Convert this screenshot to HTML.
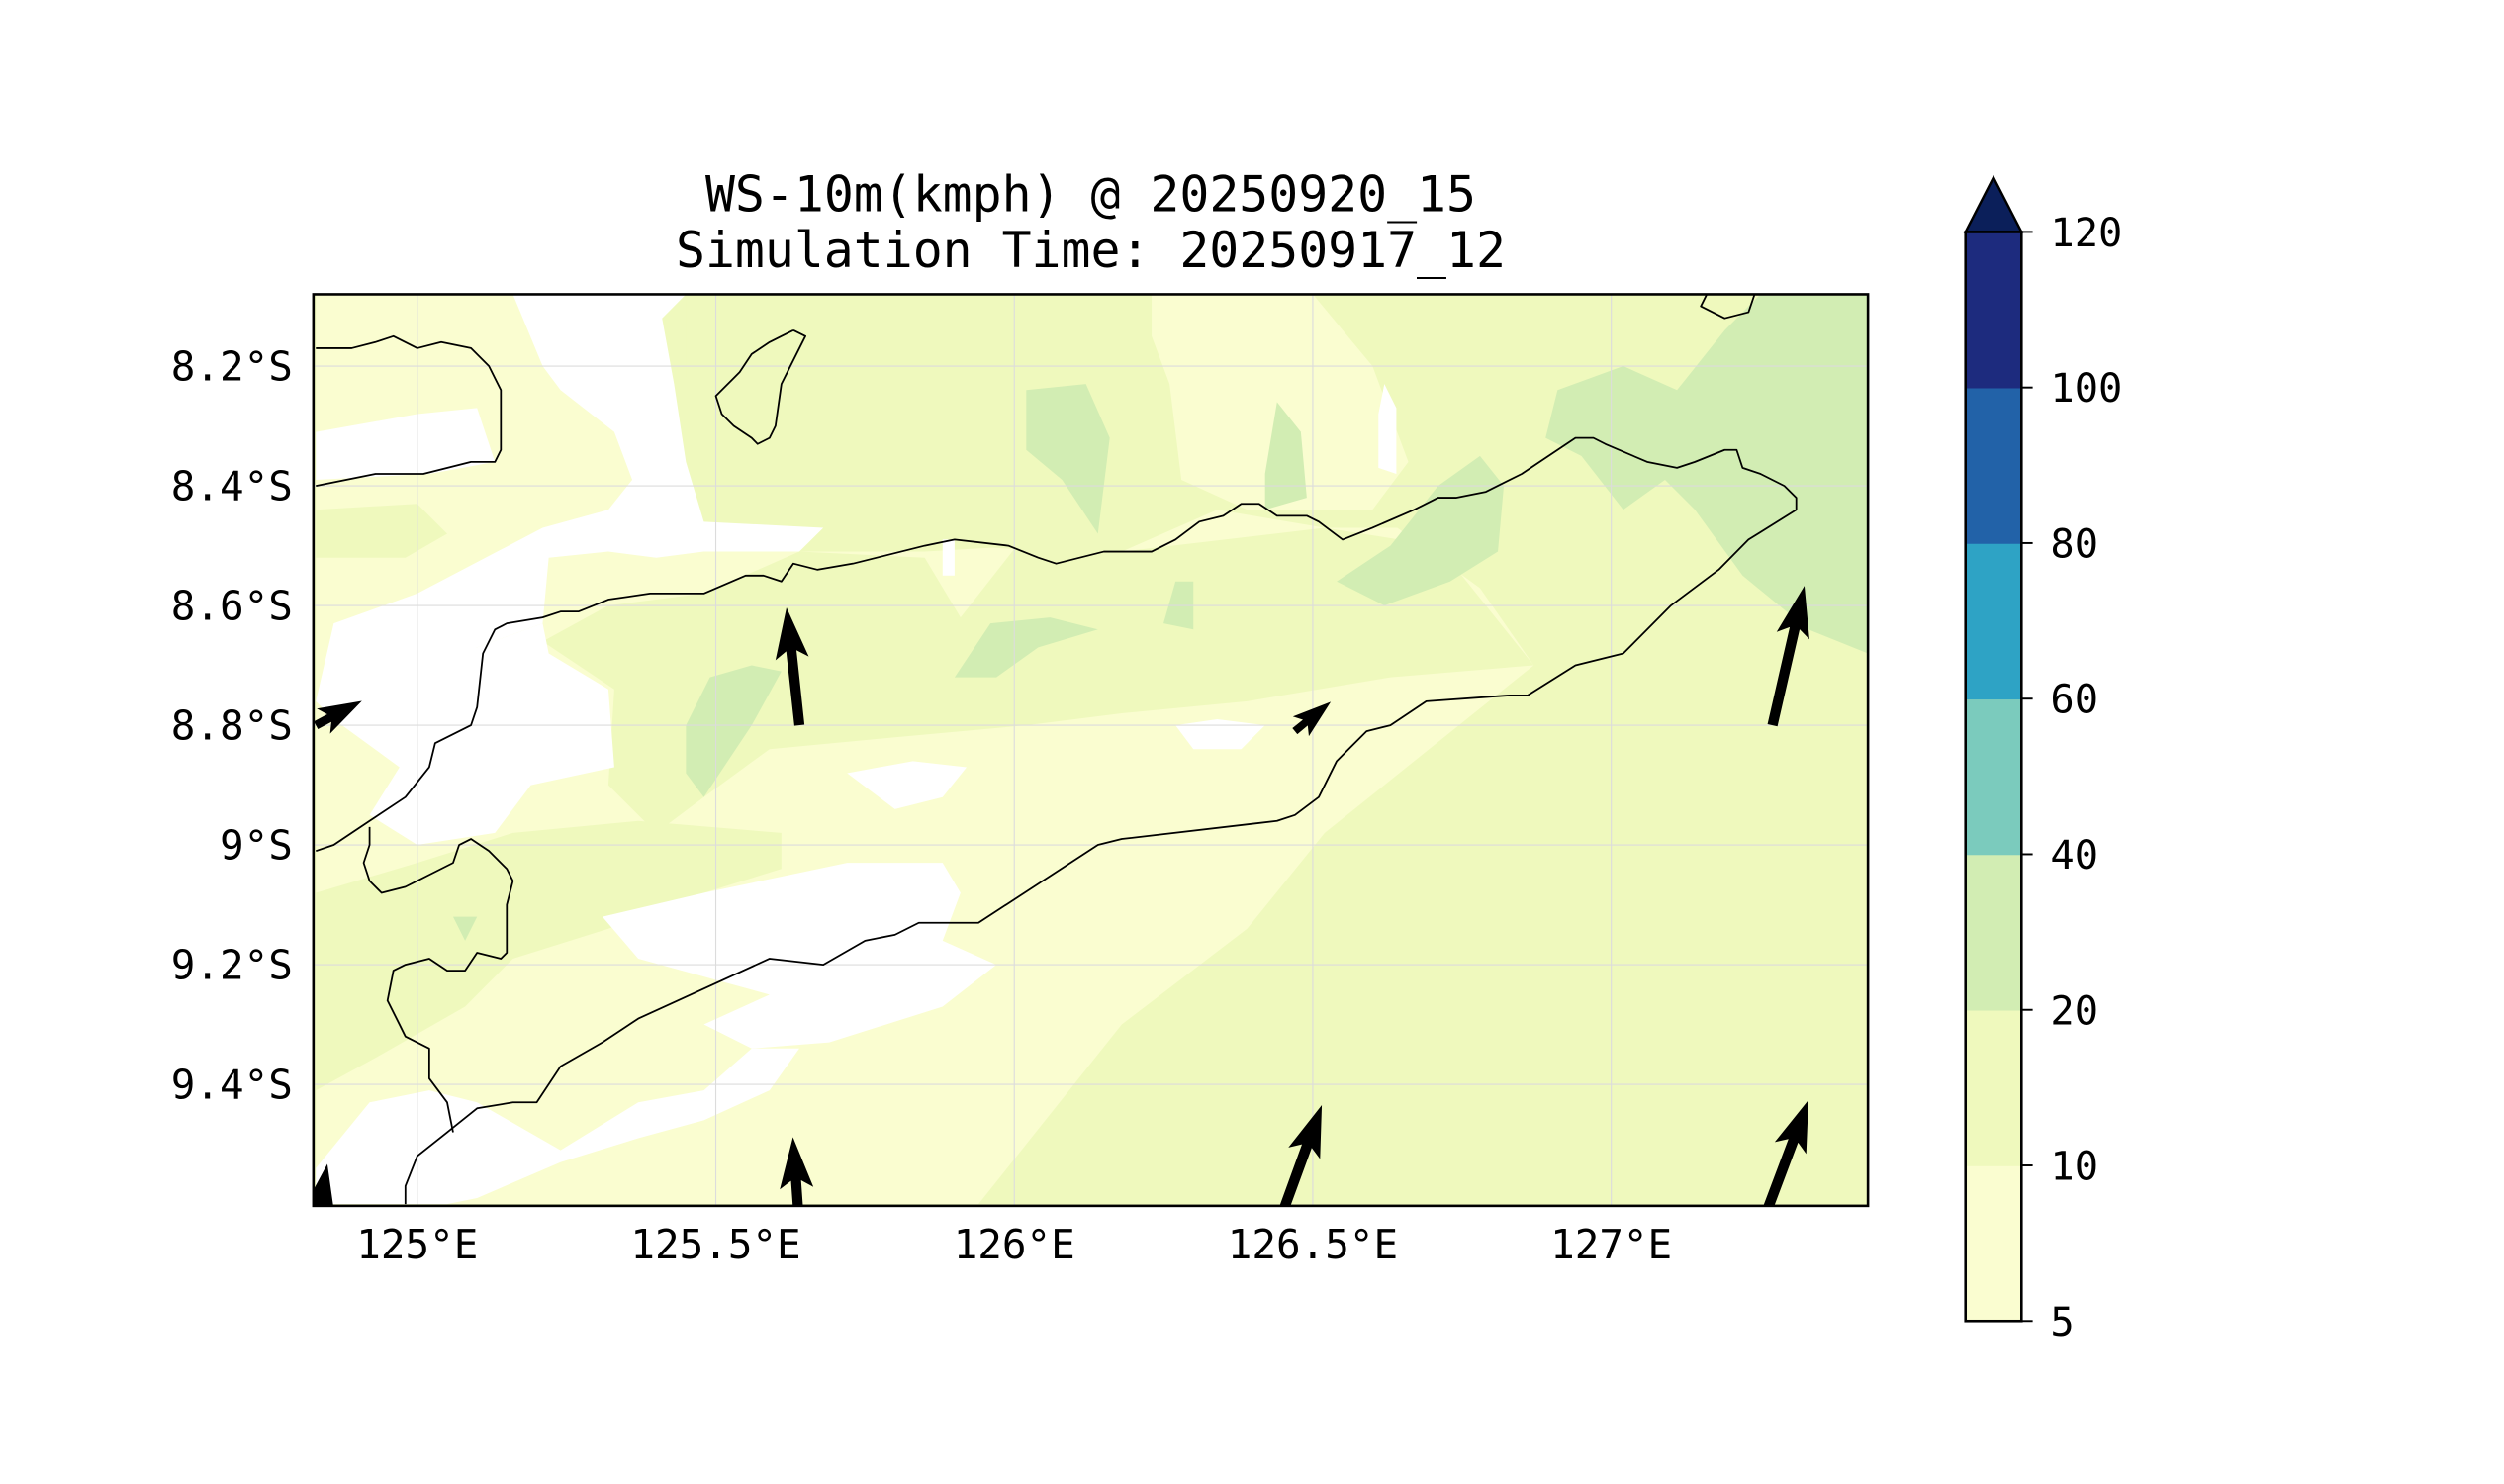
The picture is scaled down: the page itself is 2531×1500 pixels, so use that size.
<!DOCTYPE html>
<html><head><meta charset="utf-8">
<style>
html,body{margin:0;padding:0;background:#fff;}
svg{display:block;}
text{font-family:"DejaVu Sans Mono","Liberation Mono",monospace;fill:#000;}
</style></head>
<body>
<svg id="chart" width="2531" height="1500" viewBox="0 0 1565.7 927.9" xmlns="http://www.w3.org/2000/svg">
<defs><clipPath id="plotclip"><rect x="196" y="184" width="972" height="570"/></clipPath></defs>
<text x="682" y="132" font-size="30.8" text-anchor="middle">WS-10m(kmph) @ 20250920_15</text>
<text x="682" y="167" font-size="30.8" text-anchor="middle">Simulation Time: 20250917_12</text>
<g id="plot" clip-path="url(#plotclip)"></g>
<rect x="196" y="184" width="972" height="570" fill="none" stroke="#000" stroke-width="1.6"/>
<g id="axes"></g>
<g id="cbar"></g>
</svg>
<script>
const lonTicks=[125,125.5,126,126.5,127];
const lonTickLabels=["125°E","125.5°E","126°E","126.5°E","127°E"];
const latTicks=[8.2,8.4,8.6,8.8,9.0,9.2,9.4];
const latTickLabels=["8.2°S","8.4°S","8.6°S","8.8°S","9°S","9.2°S","9.4°S"];
const cbarLevels=[5,10,20,40,60,80,100,120];
const cbarColors=["#fafdd0","#eff9bd","#d2edb3","#7bcbbd","#2ea3c5","#2262a8","#1d2b7e"];
const cbarExtendColor="#0b1f5a";
// wind vectors: lon, lat(°S), u, v
const windLon=[124.83,125.64,126.47,127.27,125.64,126.44,127.25,124.83];
const windLat=[8.80,8.80,8.81,8.80,9.64,9.64,9.64,9.64];
const windU=[3.6,-1.0,2.8,2.5,-0.5,3.5,3.75,0.9];
const windV=[1.9,9.2,2.3,10.9,7.1,9.6,10.0,5.0];
// contour regions [lon,lat]
const regionLight1=[[124.83,8.08],[125.16,8.08],[125.22,8.20],[125.32,8.28],[125.36,8.39],[125.32,8.47],[125.48,8.47],[125.68,8.47],[125.64,8.51],[125.85,8.51],[126.02,8.50],[126.18,8.51],[126.34,8.44],[126.52,8.47],[126.71,8.47],[126.87,8.70],[126.52,8.98],[126.39,9.14],[126.18,9.30],[125.94,9.60],[124.83,9.60]];
const regionMid1=[[124.83,8.44],[125.00,8.43],[125.05,8.48],[124.98,8.52],[124.83,8.52]];
const regionMid2=[[125.45,8.08],[126.23,8.08],[126.23,8.15],[126.26,8.23],[126.27,8.39],[126.23,8.47],[126.07,8.51],[125.91,8.50],[125.80,8.47],[125.68,8.47],[125.53,8.44],[125.48,8.39],[125.45,8.26]];
const regionMid3=[[126.50,8.08],[127.43,8.08],[127.43,8.71],[126.98,8.70],[126.82,8.60],[126.60,8.44],[126.55,8.28]];
const regionLight2=[[126.23,8.08],[126.50,8.08],[126.60,8.20],[126.66,8.36],[126.60,8.44],[126.39,8.44],[126.28,8.39],[126.26,8.23],[126.23,8.15]];
const regionMid4=[[125.21,8.66],[125.32,8.60],[125.48,8.58],[125.64,8.51],[125.85,8.52],[125.91,8.62],[126.02,8.48],[126.18,8.51],[126.52,8.47],[126.71,8.50],[126.87,8.70],[126.63,8.72],[126.39,8.76],[126.18,8.78],[126.02,8.80],[125.80,8.82],[125.59,8.84],[125.48,8.92],[125.40,8.98],[125.32,8.90],[125.33,8.74]];
const regionMid5=[[124.83,9.08],[125.00,9.03],[125.16,8.98],[125.37,8.96],[125.61,8.98],[125.61,9.04],[125.48,9.08],[125.32,9.14],[125.16,9.19],[125.08,9.27],[124.94,9.35],[124.83,9.41]];
const regionWhite1=[[125.16,8.08],[125.45,8.08],[125.41,8.12],[125.43,8.23],[125.45,8.36],[125.48,8.46],[125.68,8.47],[125.64,8.51],[125.48,8.51],[125.40,8.52],[125.32,8.51],[125.22,8.52],[125.21,8.63],[125.10,8.67],[124.89,8.66],[124.86,8.63],[125.00,8.58],[125.21,8.47],[125.32,8.44],[125.36,8.39],[125.33,8.31],[125.24,8.24],[125.21,8.20]];
const regionWhite2=[[124.83,8.31],[125.00,8.28],[125.10,8.27],[125.13,8.36],[125.02,8.38],[124.83,8.39]];
const regionWhite3=[[124.86,8.63],[125.10,8.67],[125.21,8.63],[125.22,8.68],[125.32,8.74],[125.33,8.87],[125.19,8.90],[125.13,8.98],[125.00,9.00],[124.92,8.95],[124.97,8.87],[124.86,8.79],[124.83,8.76]];
const regionWhite4=[[125.72,8.88],[125.83,8.86],[125.92,8.87],[125.88,8.92],[125.80,8.94]];
const regionWhite5=[[126.27,8.80],[126.34,8.79],[126.42,8.80],[126.38,8.84],[126.30,8.84]];
const regionWhite6=[[125.31,9.12],[125.48,9.08],[125.72,9.03],[125.88,9.03],[125.91,9.08],[125.88,9.16],[125.97,9.20],[125.88,9.27],[125.69,9.33],[125.56,9.34],[125.48,9.30],[125.59,9.25],[125.37,9.19]];
const regionWhite7=[[124.83,9.60],[124.83,9.54],[124.92,9.43],[125.02,9.41],[125.10,9.43],[125.24,9.51],[125.37,9.43],[125.48,9.41],[125.56,9.34],[125.64,9.34],[125.59,9.41],[125.48,9.46],[125.37,9.49],[125.24,9.53],[125.10,9.59],[125.05,9.60]];
const regionWhite8=[[125.88,8.49],[125.90,8.49],[125.90,8.55],[125.88,8.55]];
const regionWhite9=[[126.62,8.23],[126.64,8.27],[126.64,8.38],[126.61,8.37],[126.61,8.28]];
const regionGreen1=[[126.91,8.24],[127.02,8.20],[127.11,8.24],[127.19,8.14],[127.25,8.08],[127.43,8.08],[127.43,8.68],[127.33,8.64],[127.22,8.55],[127.14,8.44],[127.09,8.39],[127.02,8.44],[126.95,8.35],[126.89,8.32]];
const regionGreen2=[[126.02,8.24],[126.12,8.23],[126.16,8.32],[126.14,8.48],[126.08,8.39],[126.02,8.34]];
const regionGreen3=[[126.44,8.26],[126.48,8.31],[126.49,8.42],[126.42,8.44],[126.42,8.38]];
const regionGreen4=[[126.54,8.56],[126.63,8.50],[126.71,8.40],[126.78,8.35],[126.82,8.40],[126.81,8.51],[126.73,8.56],[126.62,8.60]];
const regionGreen5=[[126.25,8.63],[126.27,8.56],[126.30,8.56],[126.30,8.64]];
const regionGreen6=[[125.90,8.72],[125.96,8.63],[126.06,8.62],[126.14,8.64],[126.04,8.67],[125.97,8.72]];
const regionGreen7=[[125.45,8.80],[125.49,8.72],[125.56,8.70],[125.61,8.71],[125.56,8.80],[125.48,8.92],[125.45,8.88]];
const regionGreen8=[[125.06,9.12],[125.10,9.12],[125.08,9.16]];
// coastlines
const coastMain=[[124.83,9.01],[124.86,9.00],[124.92,8.96],[124.98,8.92],[125.02,8.87],[125.03,8.83],[125.09,8.80],[125.10,8.77],[125.11,8.68],[125.13,8.64],[125.15,8.63],[125.21,8.62],[125.24,8.61],[125.27,8.61],[125.32,8.59],[125.39,8.58],[125.48,8.58],[125.55,8.55],[125.58,8.55],[125.61,8.56],[125.63,8.53],[125.67,8.54],[125.73,8.53],[125.85,8.50],[125.90,8.49],[125.99,8.50],[126.04,8.52],[126.07,8.53],[126.15,8.51],[126.23,8.51],[126.27,8.49],[126.31,8.46],[126.35,8.45],[126.38,8.43],[126.41,8.43],[126.44,8.45],[126.49,8.45],[126.51,8.46],[126.55,8.49],[126.60,8.47],[126.67,8.44],[126.71,8.42],[126.74,8.42],[126.79,8.41],[126.85,8.38],[126.94,8.32],[126.97,8.32],[126.99,8.33],[127.06,8.36],[127.11,8.37],[127.14,8.36],[127.19,8.34],[127.21,8.34],[127.22,8.37],[127.25,8.38],[127.29,8.40],[127.31,8.42],[127.31,8.44],[127.23,8.49],[127.18,8.54],[127.10,8.60],[127.02,8.68],[126.94,8.70],[126.86,8.75],[126.83,8.75],[126.69,8.76],[126.63,8.80],[126.59,8.81],[126.54,8.86],[126.51,8.92],[126.47,8.95],[126.44,8.96],[126.18,8.99],[126.14,9.00],[125.94,9.13],[125.84,9.13],[125.80,9.15],[125.75,9.16],[125.68,9.20],[125.59,9.19],[125.37,9.29],[125.31,9.33],[125.24,9.37],[125.20,9.43],[125.16,9.43],[125.10,9.44],[125.05,9.48],[125.00,9.52],[124.98,9.57],[124.98,9.60]];
const coastIsland2=[[124.92,8.97],[124.92,9.00],[124.91,9.03],[124.92,9.06],[124.94,9.08],[124.98,9.07],[125.02,9.05],[125.06,9.03],[125.07,9.00],[125.09,8.99],[125.12,9.01],[125.15,9.04],[125.16,9.06],[125.15,9.10],[125.15,9.14],[125.15,9.18],[125.14,9.19],[125.10,9.18],[125.08,9.21],[125.05,9.21],[125.02,9.19],[124.98,9.20],[124.96,9.21],[124.95,9.26],[124.97,9.30],[124.98,9.32],[125.02,9.34],[125.02,9.39],[125.05,9.43],[125.06,9.48]];
const coastNorthWest=[[124.83,8.17],[124.89,8.17],[124.93,8.16],[124.96,8.15],[125.00,8.17],[125.04,8.16],[125.09,8.17],[125.12,8.20],[125.14,8.24],[125.14,8.34],[125.13,8.36],[125.09,8.36],[125.01,8.38],[124.93,8.38],[124.83,8.40]];
const coastSmallIsland=[[125.63,8.14],[125.65,8.15],[125.61,8.23],[125.60,8.30],[125.59,8.32],[125.57,8.33],[125.56,8.32],[125.53,8.30],[125.51,8.28],[125.50,8.25],[125.52,8.23],[125.54,8.21],[125.56,8.18],[125.59,8.16],[125.61,8.15],[125.63,8.14]];
const coastNorthEast=[[127.16,8.08],[127.15,8.10],[127.19,8.12],[127.23,8.11],[127.24,8.08]];

const NS="http://www.w3.org/2000/svg";
const X0=196,X1=1168,Y0=184,Y1=754;
const LON0=124.826,LON1=127.43,LAT0=8.08,LAT1=9.603;
function xs(lon){return X0+(lon-LON0)/(LON1-LON0)*(X1-X0);}
function ys(lat){return Y0+(lat-LAT0)/(LAT1-LAT0)*(Y1-Y0);}
function mk(tag,attrs,parent){const e=document.createElementNS(NS,tag);for(const k in attrs)e.setAttribute(k,attrs[k]);parent.appendChild(e);return e;}
function pts(arr){return arr.map(p=>xs(p[0]).toFixed(1)+","+ys(p[1]).toFixed(1)).join(" ");}
const plot=document.getElementById("plot");
const axes=document.getElementById("axes");
const cbar=document.getElementById("cbar");

let bg=mk("rect",{x:X0,y:Y0,width:X1-X0,height:Y1-Y0,fill:cbarColors[1]},plot);


const layers=[
 [regionLight1,"#fafdd0","contour-5-10"],[regionMid1,cbarColors[1],"contour-10-20"],[regionMid2,cbarColors[1],"contour-10-20"],
 [regionMid3,cbarColors[1],"contour-10-20"],[regionLight2,"#fafdd0","contour-5-10"],[regionMid4,cbarColors[1],"contour-10-20"],
 [regionMid5,cbarColors[1],"contour-10-20"],
 [regionWhite1,"#fff","contour-below-5"],[regionWhite2,"#fff","contour-below-5"],[regionWhite3,"#fff","contour-below-5"],
 [regionWhite4,"#fff","contour-below-5"],[regionWhite5,"#fff","contour-below-5"],[regionWhite6,"#fff","contour-below-5"],
 [regionWhite7,"#fff","contour-below-5"],[regionWhite8,"#fff","contour-below-5"],[regionWhite9,"#fff","contour-below-5"],
 [regionGreen1,cbarColors[2],"contour-20-40"],[regionGreen2,cbarColors[2],"contour-20-40"],[regionGreen3,cbarColors[2],"contour-20-40"],
 [regionGreen4,cbarColors[2],"contour-20-40"],[regionGreen5,cbarColors[2],"contour-20-40"],[regionGreen6,cbarColors[2],"contour-20-40"],
 [regionGreen7,cbarColors[2],"contour-20-40"],[regionGreen8,cbarColors[2],"contour-20-40"]];
layers.forEach(l=>{
 const p=mk("polygon",{points:pts(l[0]),fill:l[1]},plot);
 
 
});
lonTicks.forEach(t=>{const g=mk("line",{x1:xs(t),x2:xs(t),y1:Y0,y2:Y1,stroke:"#dcdcdc","stroke-width":0.7},plot);
 
 });
latTicks.forEach(t=>{const g=mk("line",{x1:X0,x2:X1,y1:ys(t),y2:ys(t),stroke:"#dcdcdc","stroke-width":0.7},plot);
 
 });
[[coastMain,"coastline-main"],[coastIsland2,"coastline-island"],[coastNorthWest,"coastline-northwest"],[coastSmallIsland,"coastline-small-island"],[coastNorthEast,"coastline-northeast"]].forEach(c=>{
 const p=mk("polyline",{points:pts(c[0]),fill:"none",stroke:"#000","stroke-width":1.1,"stroke-linejoin":"round"},plot);
 
 
});
const SC=8;
for(let i=0;i<windLon.length;i++){
 const bx=xs(windLon[i]),by=ys(windLat[i]);
 const dx=windU[i]*SC,dy=-windV[i]*SC;
 const L=Math.hypot(dx,dy);const ux=dx/L,uy=dy/L,nx=-uy,ny=ux;
 let hl=32,hw=10.5,sw=3.2;
 if(L<hl*1.2){const f=L/(hl*1.2);hl*=f;hw*=f;sw=Math.max(1.6,sw*f);}
 const hb=L-hl*0.85, hbo=L-hl;
 const P=[[0,-sw],[hb,-sw],[hbo,-hw],[L,0],[hbo,hw],[hb,sw],[0,sw]].map(q=>[bx+ux*q[0]+nx*q[1],by+uy*q[0]+ny*q[1]]);
 const a=mk("polygon",{points:P.map(q=>q[0].toFixed(1)+","+q[1].toFixed(1)).join(" "),fill:"#000"},plot);
 
 
}
lonTicks.forEach((t,i)=>{
 const tx=mk("text",{x:xs(t),y:787,"font-size":25.3,"text-anchor":"middle"},axes);tx.textContent=lonTickLabels[i];
 
 
});
latTicks.forEach((t,i)=>{
 const tx=mk("text",{x:183,y:ys(t)+9,"font-size":25.3,"text-anchor":"end"},axes);tx.textContent=latTickLabels[i];
 
 
});
const CX0=1229,CX1=1264,CT=145,CB=826;const seg=(CB-CT)/(cbarLevels.length-1);
function cy(i){return CB-i*seg;}
cbarColors.forEach((c,i)=>{
 const r=mk("rect",{x:CX0,y:cy(i+1),width:CX1-CX0,height:seg+0.5,fill:c},cbar);
 
 
});
const tri=mk("polygon",{points:`${CX0},${CT} ${(CX0+CX1)/2},${CT-34} ${CX1},${CT}`,fill:cbarExtendColor,stroke:"#000","stroke-width":1.5},cbar);


const fr=mk("rect",{x:CX0,y:CT,width:CX1-CX0,height:CB-CT,fill:"none",stroke:"#000","stroke-width":1.6},cbar);


cbarLevels.forEach((v,i)=>{
 const tk=mk("line",{x1:CX1,x2:CX1+7,y1:cy(i),y2:cy(i),stroke:"#000","stroke-width":1.2},cbar);
 
 
 const tx=mk("text",{x:CX1+18,y:cy(i)+9,"font-size":25},cbar);tx.textContent=String(v);
 
 
});
</script>
</body></html>
